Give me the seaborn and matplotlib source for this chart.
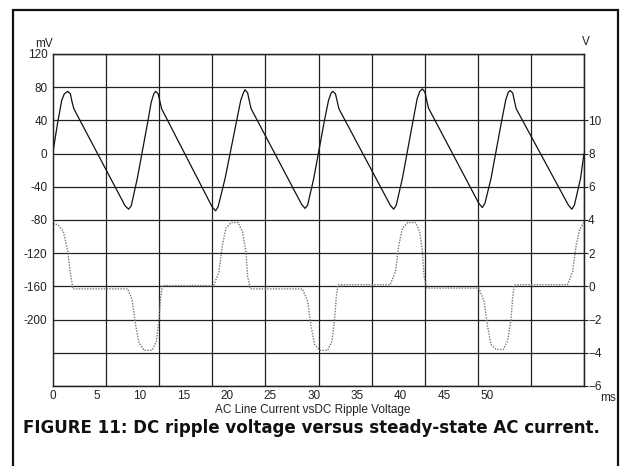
import numpy as np
import pandas as pd
import matplotlib
matplotlib.use("Agg")
import matplotlib.pyplot as plt
from matplotlib.patches import Rectangle
import seaborn as sns

# DC ripple voltage (mV, left axis)
ripple_t = [0.0, 0.5, 1.0, 1.3, 1.7, 2.0, 2.2, 2.4,
            8.3, 8.7, 9.0, 9.7, 10.9, 11.3, 11.6, 11.8, 12.1, 12.3, 12.5,
            18.3, 18.7, 19.0, 19.8, 21.1, 21.6, 21.9, 22.1, 22.4, 22.6, 22.8,
            28.6, 29.0, 29.3, 30.0, 31.2, 31.7, 32.0, 32.2, 32.5, 32.7, 32.9,
            38.8, 39.2, 39.5, 40.2, 41.4, 41.9, 42.2, 42.5, 42.8, 43.0, 43.2,
            49.0, 49.4, 49.7, 50.4, 51.6, 52.1, 52.4, 52.6, 52.9, 53.1, 53.3,
            59.3, 59.7, 60.0, 60.7, 61.1]
ripple_mv = [2, 35, 64, 72, 75, 72, 62, 54,
             -63, -67, -63, -30, 38, 62, 72, 75, 72, 63, 54,
             -64, -69, -64, -30, 38, 64, 73, 77, 73, 63, 54,
             -61, -66, -62, -30, 38, 64, 73, 75, 72, 63, 54,
             -62, -67, -62, -30, 38, 66, 75, 78, 74, 64, 55,
             -60, -65, -60, -30, 38, 65, 74, 76, 73, 63, 54,
             -62, -67, -62, -30, 0]

# AC line current (V, right axis)
current_t = [0.0, 0.6, 1.2, 1.7, 2.0, 2.3,
             8.6, 9.1, 9.5, 9.9, 10.5, 11.4, 11.9, 12.2, 12.4, 12.6,
             18.5, 19.1, 19.5, 19.9, 20.5, 21.3, 21.8, 22.2, 22.4, 22.7,
             28.7, 29.3, 29.7, 30.1, 30.7, 31.6, 32.1, 32.4, 32.6, 32.8,
             38.8, 39.4, 39.8, 40.2, 40.8, 41.7, 42.2, 42.5, 42.7, 43.0,
             49.0, 49.6, 50.0, 50.4, 51.0, 51.8, 52.3, 52.7, 52.9, 53.1,
             59.2, 59.8, 60.2, 60.6, 61.1]
current_v = [3.8, 3.7, 3.3, 2.1, 0.8, -0.15,
             -0.15, -0.8, -2.3, -3.4, -3.85, -3.85, -3.3, -2.0, -0.6, 0.05,
             0.05, 0.9, 2.5, 3.5, 3.85, 3.85, 3.3, 2.1, 0.6, -0.15,
             -0.15, -0.9, -2.4, -3.5, -3.85, -3.85, -3.3, -2.0, -0.6, 0.1,
             0.1, 0.9, 2.5, 3.5, 3.85, 3.85, 3.3, 2.1, 0.6, -0.1,
             -0.1, -0.9, -2.4, -3.5, -3.8, -3.8, -3.3, -2.0, -0.6, 0.1,
             0.1, 0.9, 2.5, 3.4, 3.9]

x_ticks = [0, 5, 10, 15, 20, 25, 30, 35, 40, 45, 50]
mv_ticks = [120, 80, 40, 0, -40, -80, -120, -160, -200, -240, -280]
mv_labels = ["120", "80", "40", "0", "-40", "-80", "-120", "-160", "-200", "", ""]
v_ticks = [10, 8, 6, 4, 2, 0, -2, -4, -6]

df_ripple = pd.DataFrame({"t": ripple_t, "mV": ripple_mv})
df_current = pd.DataFrame({"t": current_t, "V": current_v})

sns.set_style("white")
plt.rcParams["font.family"] = ["Liberation Sans", "DejaVu Sans"]

fig = plt.figure(figsize=(6.21, 4.66), dpi=100)
ax = fig.add_axes([53 / 621, 1 - 386 / 466, 531 / 621, 332 / 466])
ax2 = ax.twinx()

sns.lineplot(data=df_ripple, x="t", y="mV", ax=ax, color="#111111",
             linewidth=0.9, estimator=None, sort=False)
sns.lineplot(data=df_current, x="t", y="V", ax=ax2, color="#777777",
             linewidth=1.0, linestyle=(0, (1, 1)), estimator=None, sort=False)

x_max = 61.1
ax.set_xlim(0, x_max)
ax.set_ylim(-280, 120)
ax2.set_ylim(-6, 14)

ax.set_xticks(x_ticks)
ax.set_xticks(np.linspace(0, x_max, 11), minor=True)
ax.set_yticks(mv_ticks)
ax.set_yticklabels(mv_labels)
ax2.set_yticks(v_ticks)

ax.grid(False)
ax2.grid(False)
ax.grid(which="minor", axis="x", color="#222222", linewidth=0.9)
ax.grid(which="major", axis="y", color="#222222", linewidth=0.9)
ax.tick_params(axis="x", which="both", length=0, labelsize=8.5, pad=3, colors="#222222")
ax.tick_params(axis="y", length=0, labelsize=8.5, pad=4, colors="#222222")
ax2.tick_params(axis="y", length=3, width=0.8, labelsize=8.5, pad=0, colors="#222222")

for a in (ax, ax2):
    for s in a.spines.values():
        s.set_color("#222222")
        s.set_linewidth(0.9)

ax.set_xlabel("")
ax.set_ylabel("")
ax2.set_ylabel("")

fig.text(35 / 621, 1 - 44 / 466, "mV", fontsize=8.5, color="#222222", va="center")
fig.text(582 / 621, 1 - 42 / 466, "V", fontsize=8.5, color="#222222", va="center")
fig.text(600 / 621, 1 - 398 / 466, "ms", fontsize=8.5, color="#222222", va="center")
fig.text(313 / 621, 1 - 410 / 466, "AC Line Current vsDC Ripple Voltage",
         fontsize=8.5, color="#222222", ha="center", va="center")

fig.text(23 / 621, 1 - 428 / 466, "FIGURE 11: DC ripple voltage versus steady-state AC current.",
         fontsize=13.3, fontweight="bold", fontstretch="condensed",
         family=["DejaVu Sans"], color="#111111", va="center")

fig.add_artist(Rectangle((13 / 621, -0.05), 605 / 621, 1.05 - 10 / 466,
                         transform=fig.transFigure, fill=False,
                         edgecolor="#111111", linewidth=1.6, clip_on=False))

fig.savefig("out.png", dpi=100)
